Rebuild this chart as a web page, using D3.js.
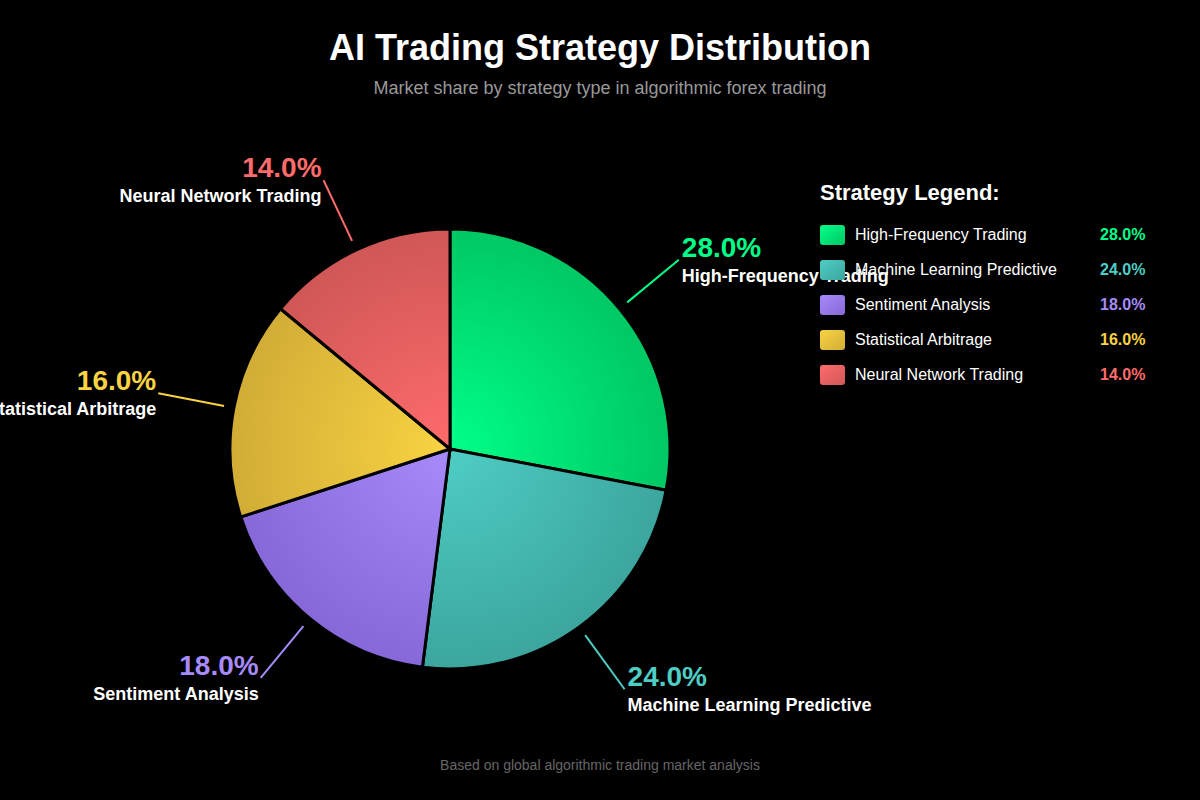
<!DOCTYPE html>
<html lang="en">
<head>
  <meta charset="UTF-8" />
  <title>AI Trading Strategy Distribution</title>
  <script src="https://d3js.org/d3.v7.min.js"></script>
  <style>
    body { margin: 0; background: #000; font-family: 'Liberation Sans', Arial, sans-serif; }
    svg { display: block; }
  </style>
</head>
<body>
  <svg width="1200" height="800"></svg>

  <script>
    // chart data
    const strategies = ["High-Frequency Trading", "Machine Learning Predictive", "Sentiment Analysis", "Statistical Arbitrage", "Neural Network Trading"];
    const shares = [28.0, 24.0, 18.0, 16.0, 14.0];
    const lightColors = ["#00ff88", "#4ecdc4", "#a78bfa", "#f9d342", "#ff6b6b"];
    const darkColors = ["#00c864", "#3ca69e", "#8668d8", "#d2ad36", "#d05757"];

    const width = 1200, height = 800;
    const cx = 450, cy = 449, radius = 220;

    const svg = d3.select("svg")
      .attr("width", width)
      .attr("height", height);

    svg.append("rect").attr("width", width).attr("height", height).attr("fill", "#000");

    // title + subtitle
    svg.append("text")
      .attr("x", width / 2).attr("y", 60)
      .attr("text-anchor", "middle")
      .attr("fill", "#fff")
      .style("font-size", "36px").style("font-weight", "bold")
      .text("AI Trading Strategy Distribution");

    svg.append("text")
      .attr("x", width / 2).attr("y", 94)
      .attr("text-anchor", "middle")
      .attr("fill", "#999")
      .style("font-size", "18px")
      .text("Market share by strategy type in algorithmic forex trading");

    const data = strategies.map((name, i) => ({ name, value: shares[i], i }));

    const defs = svg.append("defs");
    data.forEach(d => {
      const grad = defs.append("radialGradient")
        .attr("id", "grad" + d.i)
        .attr("gradientUnits", "userSpaceOnUse")
        .attr("cx", 0).attr("cy", 0).attr("r", radius);
      grad.append("stop").attr("offset", "0%").attr("stop-color", lightColors[d.i]);
      grad.append("stop").attr("offset", "100%").attr("stop-color", darkColors[d.i]);

      const lg = defs.append("linearGradient")
        .attr("id", "lg" + d.i)
        .attr("x1", "0%").attr("y1", "0%").attr("x2", "100%").attr("y2", "100%");
      lg.append("stop").attr("offset", "0%").attr("stop-color", lightColors[d.i]);
      lg.append("stop").attr("offset", "100%").attr("stop-color", darkColors[d.i]);
    });

    const pie = d3.pie().value(d => d.value).sort(null);
    const arc = d3.arc().innerRadius(0).outerRadius(radius);
    const lineInner = d3.arc().innerRadius(radius + 10).outerRadius(radius + 10);
    const lineOuter = d3.arc().innerRadius(radius * 1.35).outerRadius(radius * 1.35);

    const arcs = pie(data);
    const g = svg.append("g").attr("transform", `translate(${cx},${cy})`);

    g.selectAll("path.slice")
      .data(arcs)
      .join("path")
      .attr("class", "slice")
      .attr("d", arc)
      .attr("fill", d => `url(#grad${d.data.i})`)
      .attr("stroke", "#000")
      .attr("stroke-width", 3);

    // leader lines
    g.selectAll("line.leader")
      .data(arcs)
      .join("line")
      .attr("class", "leader")
      .attr("x1", d => lineInner.centroid(d)[0])
      .attr("y1", d => lineInner.centroid(d)[1])
      .attr("x2", d => lineOuter.centroid(d)[0])
      .attr("y2", d => lineOuter.centroid(d)[1])
      .attr("stroke", d => lightColors[d.data.i])
      .attr("stroke-width", 2);

    const midAngle = d => (d.startAngle + d.endAngle) / 2;
    const isRight = d => midAngle(d) < Math.PI;

    g.selectAll("text.pct")
      .data(arcs)
      .join("text")
      .attr("class", "pct")
      .attr("x", d => lineOuter.centroid(d)[0] + (isRight(d) ? 3 : -2))
      .attr("y", d => lineOuter.centroid(d)[1] - 3)
      .attr("text-anchor", d => isRight(d) ? "start" : "end")
      .attr("fill", d => lightColors[d.data.i])
      .style("font-size", "28px").style("font-weight", "bold")
      .text(d => d.data.value.toFixed(1) + "%");

    g.selectAll("text.name")
      .data(arcs)
      .join("text")
      .attr("class", "name")
      .attr("x", d => lineOuter.centroid(d)[0] + (isRight(d) ? 3 : -2))
      .attr("y", d => lineOuter.centroid(d)[1] + 22)
      .attr("text-anchor", d => isRight(d) ? "start" : "end")
      .attr("fill", "#fff")
      .style("font-size", "18px").style("font-weight", "bold")
      .text(d => d.data.name);

    // legend
    const legend = svg.append("g").attr("transform", "translate(820,200)");
    legend.append("text")
      .attr("x", 0).attr("y", 0)
      .attr("fill", "#fff")
      .style("font-size", "22px").style("font-weight", "bold")
      .text("Strategy Legend:");

    const rows = legend.selectAll("g.row")
      .data(data)
      .join("g")
      .attr("class", "row")
      .attr("transform", (d, i) => `translate(0,${25 + i * 35})`);

    rows.append("rect")
      .attr("width", 25).attr("height", 20).attr("rx", 3)
      .attr("fill", d => `url(#lg${d.i})`);

    rows.append("text")
      .attr("x", 35).attr("y", 15)
      .attr("fill", "#fff")
      .style("font-size", "16px")
      .text(d => d.name);

    rows.append("text")
      .attr("x", 280).attr("y", 15)
      .attr("fill", d => lightColors[d.i])
      .style("font-size", "16px").style("font-weight", "bold")
      .text(d => d.value.toFixed(1) + "%");

    svg.append("text")
      .attr("x", width / 2).attr("y", 770)
      .attr("text-anchor", "middle")
      .attr("fill", "#666")
      .style("font-size", "14px")
      .text("Based on global algorithmic trading market analysis");
  </script>
</body>
</html>
